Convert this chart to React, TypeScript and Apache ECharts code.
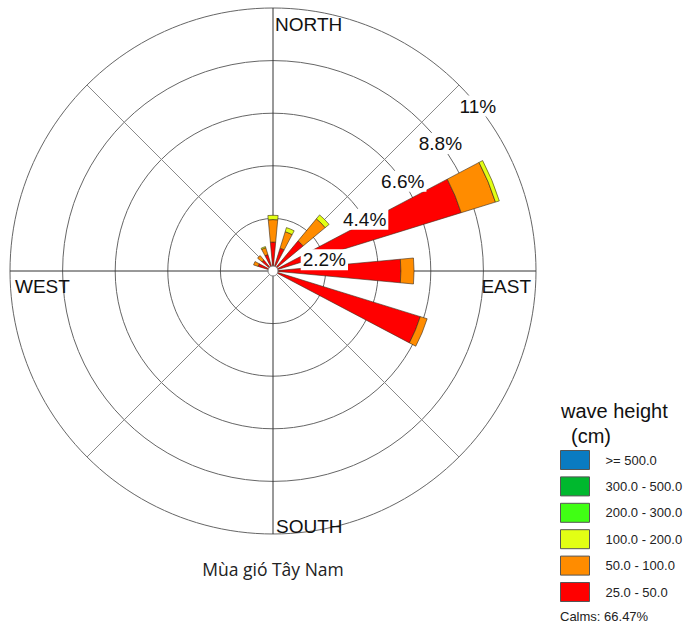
import React, { useEffect, useRef } from 'react';
import * as echarts from 'echarts';

// ---- data ----
const DIRECTIONS = ['N', 'NNE', 'NE', 'ENE', 'E', 'ESE', 'SE', 'SSE', 'S', 'SSW', 'SW', 'WSW', 'W', 'WNW', 'NW', 'NNW'];
const RED = [1.21, 1.0, 1.64, 8.24, 5.35, 6.45, 0, 0, 0, 0, 0, 0, 0, 0.65, 0.6, 0.72];
const ORANGE = [0.94, 0.72, 1.2, 1.5, 0.55, 0.3, 0, 0, 0, 0, 0, 0, 0, 0.2, 0.24, 0.3];
const YELLOW = [0.18, 0.18, 0.21, 0.17, 0, 0, 0, 0, 0, 0, 0, 0, 0, 0, 0, 0.05];
const LIME = [0, 0, 0, 0, 0, 0, 0, 0, 0, 0, 0, 0, 0, 0, 0, 0];
const GREEN = [0, 0, 0, 0, 0, 0, 0, 0, 0, 0, 0, 0, 0, 0, 0, 0];
const BLUE = [0, 0, 0, 0, 0, 0, 0, 0, 0, 0, 0, 0, 0, 0, 0, 0];
const SERIES_NAMES = ['25.0 - 50.0', '50.0 - 100.0', '100.0 - 200.0', '200.0 - 300.0', '300.0 - 500.0', '>= 500.0'];
const RING_TICKS = [2.2, 4.4, 6.6, 8.8, 11];
const RING_LABELS = ['2.2%', '4.4%', '6.6%', '8.8%', '11%'];
const RADIUS_MAX = 11;
const CALMS = 'Calms: 66.47%';
const TITLE = 'Mùa gió Tây Nam';

// ---- styles / layout ----
const COLORS = ['#FF0000', '#FF8C00', '#E2FF14', '#40FF14', '#00B82E', '#0A7BC1'];
const CX = 273;
const CY = 271;
const R = 263;
const LABEL_OFFSET = 40;
const FONT = '"Liberation Sans", Arial, sans-serif';

export default function App() {
  const ref = useRef<HTMLDivElement>(null);
  useEffect(() => {
    const chart = echarts.init(ref.current!, null, { renderer: 'svg' });
    const values = [RED, ORANGE, YELLOW, LIME, GREEN, BLUE];
    const ringLabelData = RING_TICKS.map((v, i) => {
      const rPx = (v / RADIUS_MAX) * R;
      const ang = 45 + (Math.asin(LABEL_OFFSET / (rPx * Math.SQRT2)) * 180) / Math.PI;
      return { name: RING_LABELS[i], value: [v, ang] };
    });
    const hidden = { show: false };
    const option: any = {
      animation: false,
      polar: [
        { center: [CX, CY], radius: R },
        { center: [CX, CY], radius: R },
      ],
      angleAxis: [
        {
          polarIndex: 0,
          type: 'category',
          data: DIRECTIONS,
          startAngle: 90 + 180 / DIRECTIONS.length,
          clockwise: true,
          axisLine: hidden,
          axisTick: hidden,
          axisLabel: hidden,
          splitLine: hidden,
          splitArea: hidden,
        },
        {
          polarIndex: 1,
          type: 'value',
          min: 0,
          max: 360,
          interval: 45,
          startAngle: 90,
          clockwise: true,
          axisLine: hidden,
          axisTick: hidden,
          axisLabel: hidden,
          splitLine: { show: true, lineStyle: { color: ['#333', '#8a8a8a'], width: 1 } },
        },
      ],
      radiusAxis: [
        {
          polarIndex: 0,
          type: 'value',
          min: 0,
          max: RADIUS_MAX,
          interval: 2.2,
          axisLine: hidden,
          axisTick: hidden,
          axisLabel: hidden,
          splitLine: { show: true, lineStyle: { color: '#666', width: 1 } },
        },
        {
          polarIndex: 1,
          type: 'value',
          min: 0,
          max: RADIUS_MAX,
          axisLine: hidden,
          axisTick: hidden,
          axisLabel: hidden,
          splitLine: hidden,
        },
      ],
      legend: {
        orient: 'vertical',
        left: 560,
        top: 450,
        padding: 0,
        itemWidth: 29,
        itemHeight: 19,
        itemGap: 6.4,
        icon: 'rect',
        selectedMode: false,
        data: SERIES_NAMES.slice().reverse(),
        itemStyle: { borderColor: '#555', borderWidth: 1 },
        textStyle: { fontSize: 13, lineHeight: 19, fontFamily: FONT, color: '#222', padding: [0, 0, 0, 11] },
      },
      series: [
        ...SERIES_NAMES.map((name, i) => ({
          type: 'bar',
          name,
          coordinateSystem: 'polar',
          polarIndex: 0,
          stack: 'waves',
          barCategoryGap: '53%',
          silent: true,
          data: values[i].map((v) => (v > 0 ? v : '-')),
          itemStyle: { color: COLORS[i], borderColor: '#3a2a1a', borderWidth: 0.6 },
        })),
        {
          type: 'scatter',
          coordinateSystem: 'polar',
          polarIndex: 1,
          z: 10,
          silent: true,
          symbolSize: 2,
          itemStyle: { color: 'rgba(255,255,255,0)' },
          data: ringLabelData,
          label: {
            show: true,
            position: 'inside',
            formatter: '{b}',
            fontSize: 19,
            fontFamily: FONT,
            color: '#111',
            backgroundColor: '#fff',
            padding: [1, 2],
            opacity: 1,
          },
        },
      ],
      graphic: [
        { type: 'circle', z: 100, shape: { cx: CX, cy: CY, r: 5 }, style: { fill: '#fff', stroke: '#777', lineWidth: 1 } },
        { type: 'text', z: 100, x: CX + 2, y: 24.5, style: { text: 'NORTH', fontSize: 19, fontFamily: FONT, fill: '#111', textAlign: 'left', textVerticalAlign: 'middle' } },
        { type: 'text', z: 100, x: CX + 3, y: 526, style: { text: 'SOUTH', fontSize: 19, fontFamily: FONT, fill: '#111', textAlign: 'left', textVerticalAlign: 'middle' } },
        { type: 'text', z: 100, x: CX - R + 5, y: 286, style: { text: 'WEST', fontSize: 19, fontFamily: FONT, fill: '#111', textAlign: 'left', textVerticalAlign: 'middle' } },
        { type: 'text', z: 100, x: CX + R - 5, y: 286, style: { text: 'EAST', fontSize: 19, fontFamily: FONT, fill: '#111', textAlign: 'right', textVerticalAlign: 'middle' } },
        { type: 'text', z: 100, x: CX, y: 569, style: { text: TITLE, fontSize: 17.5, fontFamily: '"Open Sans", sans-serif', fill: '#222', textAlign: 'center', textVerticalAlign: 'middle' } },
        { type: 'text', z: 100, x: 561, y: 401, style: { text: 'wave height', fontSize: 20, fontFamily: FONT, fill: '#111', textAlign: 'left', textVerticalAlign: 'top' } },
        { type: 'text', z: 100, x: 571, y: 426, style: { text: '(cm)', fontSize: 20, fontFamily: FONT, fill: '#111', textAlign: 'left', textVerticalAlign: 'top' } },
        { type: 'text', z: 100, x: 560, y: 616, style: { text: CALMS, fontSize: 13, fontFamily: FONT, fill: '#222', textAlign: 'left', textVerticalAlign: 'middle' } },
      ],
    };
    chart.setOption(option);
    return () => chart.dispose();
  }, []);
  return <div ref={ref} style={{ position: 'absolute', left: 0, top: 0, width: 689, height: 628, background: '#fff' }} />;
}
